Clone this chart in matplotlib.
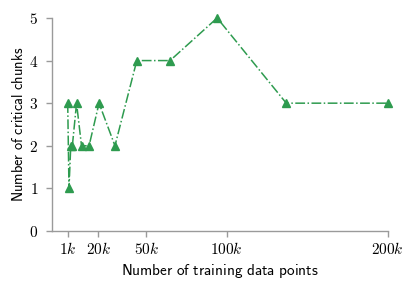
import matplotlib
matplotlib.use("Agg")
import matplotlib.pyplot as plt

plt.rcParams["mathtext.fontset"] = "cm"

# data
n_points = [1000, 1800, 2900, 3900, 6500, 9600, 14300, 20500, 30400, 44000, 64700, 94000, 137000, 200000]
n_chunks = [3, 1, 2, 2, 3, 2, 2, 3, 2, 4, 4, 5, 3, 3]

xticks = [1000, 20000, 50000, 100000, 200000]
xticklabels = [r"$1k$", r"$20k$", r"$50k$", r"$100k$", r"$200k$"]
yticks = [0, 1, 2, 3, 4, 5]

green = "#2e9b4f"
grey = "#9a9a9a"

fig = plt.figure(figsize=(4.16, 2.88), dpi=100)
ax = fig.add_axes([0.125, 0.198, 0.8077, 0.7396])

ax.plot(n_points, n_chunks, linestyle="-.", color=green, lw=1.1,
        marker="^", markersize=5.5, clip_on=False)

ax.set_xlim(-8770, 200300)
ax.set_ylim(0, 5)
ax.set_xticks(xticks)
ax.set_xticklabels(xticklabels)
ax.set_yticks(yticks)
ax.set_yticklabels([r"$%d$" % v for v in yticks])

for s in ["top", "right"]:
    ax.spines[s].set_visible(False)
for s in ["left", "bottom"]:
    ax.spines[s].set_color(grey)
    ax.spines[s].set_linewidth(1.0)
ax.tick_params(colors=grey, length=4, width=1.0, labelsize=11, labelcolor="black")
ax.tick_params(axis="y", pad=6)

ax.set_xlabel(r"$\mathsf{Number\ of\ training\ data\ points}$", fontsize=11, labelpad=3)
ax.set_ylabel(r"$\mathsf{Number\ of\ critical\ chunks}$", fontsize=10.4)
ax.yaxis.set_label_coords(-0.077, 0.5)

fig.savefig("out.png", dpi=100)
